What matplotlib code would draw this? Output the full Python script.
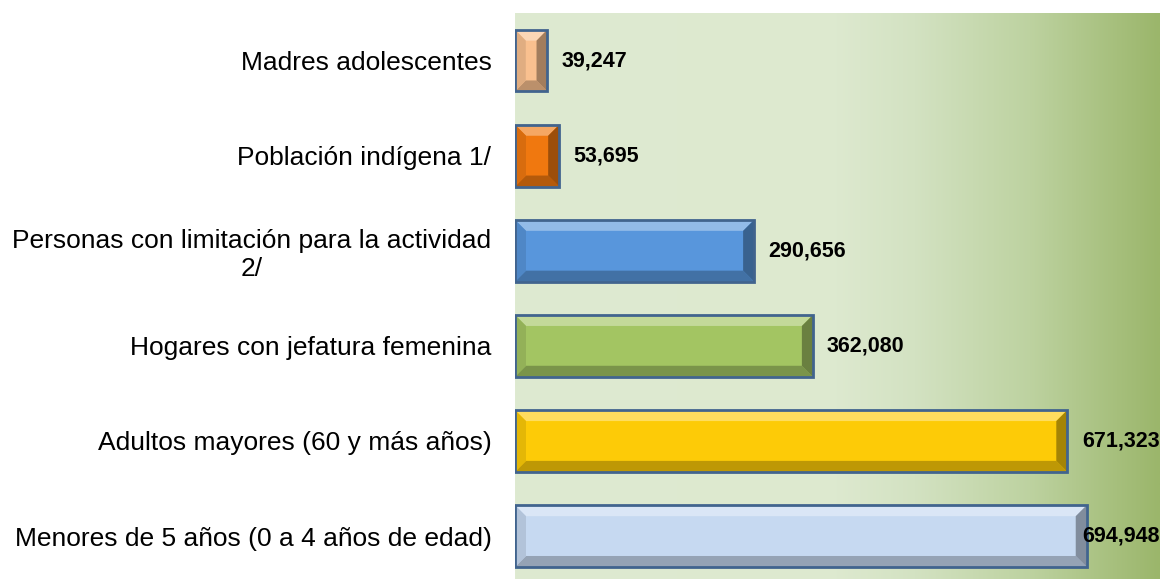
import numpy as np
import matplotlib
matplotlib.use("Agg")
import matplotlib.pyplot as plt
from matplotlib.patches import Polygon
from matplotlib.transforms import IdentityTransform
from matplotlib.colors import to_rgb, LinearSegmentedColormap

plt.rcParams['font.family'] = ['Liberation Sans', 'DejaVu Sans']

# data (top to bottom)
categories = ['Madres adolescentes', 'Población indígena 1/',
              'Personas con limitación para la actividad\n2/',
              'Hogares con jefatura femenina', 'Adultos mayores (60 y más años)',
              'Menores de 5 años (0 a 4 años de edad)']
values = [39247, 53695, 290656, 362080, 671323, 694948]
bar_colors = ['#F9C08F', '#F0780F', '#5896DC', '#A3C562', '#FDCB07', '#C6D9F1']

W, H = 1160, 579
fig = plt.figure(figsize=(W / 100, H / 100), dpi=100)
ax = fig.add_axes([515 / W, -0.008, 1 - 515 / W, (579 - 13) / 579 + 0.008])

xmax = 784000

# gradient background
bg = LinearSegmentedColormap.from_list(
    'bg', [(0, '#DEEAD1'), (0.5, '#DDE9CF'), (0.62, '#D3E2C2'),
           (0.8, '#BDD2A0'), (1, '#9BB66B')])
grad = np.linspace(0, 1, 256).reshape(1, -1)
ax.imshow(grad, cmap=bg, aspect='auto', extent=(0, 1, 0, 1),
          transform=ax.transAxes, zorder=0)
ax.set_xlim(0, xmax)
ax.set_ylim(len(values) - 0.5, -0.5)

y = np.arange(len(values))
h = 0.65
ax.barh(y, values, height=h, color=bar_colors, edgecolor='none', zorder=2)


def mix(c, other, t):
    c = np.array(to_rgb(c))
    o = np.array(to_rgb(other))
    return tuple(c * (1 - t) + o * t)


# beveled look
b = 11
for yi, v, c in zip(y, values, bar_colors):
    x0, y0 = ax.transData.transform((0, yi + h / 2))
    x1, y1 = ax.transData.transform((v, yi - h / 2))
    bx = min(b, (x1 - x0) / 3)
    pts = {
        'top': [(x0, y1), (x1, y1), (x1 - bx, y1 - b), (x0 + bx, y1 - b)],
        'bottom': [(x0, y0), (x1, y0), (x1 - bx, y0 + b), (x0 + bx, y0 + b)],
        'left': [(x0, y0), (x0, y1), (x0 + bx, y1 - b), (x0 + bx, y0 + b)],
        'right': [(x1, y0), (x1, y1), (x1 - bx, y1 - b), (x1 - bx, y0 + b)],
    }
    shades = {'top': mix(c, 'white', 0.35), 'bottom': mix(c, 'black', 0.25),
              'left': mix(c, 'black', 0.1), 'right': mix(c, 'black', 0.35)}
    for k, p in pts.items():
        ax.add_patch(Polygon(p, closed=True, facecolor=shades[k], edgecolor='none',
                             transform=IdentityTransform(), zorder=3))

ax.barh(y, values, height=h, color='none', edgecolor='#41648E', linewidth=2, zorder=4)

# value labels
for yi, v in zip(y, values):
    txt = f'{v:,}'
    if v > 0.82 * xmax:
        ax.text(xmax, yi, txt, ha='right', va='center', fontsize=15.5,
                fontweight='bold', zorder=5)
    else:
        ax.annotate(txt, (v, yi), xytext=(14, 0), textcoords='offset pixels',
                    ha='left', va='center', fontsize=15.5, fontweight='bold', zorder=5)

ax.set_yticks(y)
ax.set_yticklabels(categories, fontsize=19, multialignment='center')
ax.tick_params(axis='y', length=0, pad=17)
ax.set_xticks([])
for s in ax.spines.values():
    s.set_visible(False)

fig.savefig('out.png', dpi=100)
